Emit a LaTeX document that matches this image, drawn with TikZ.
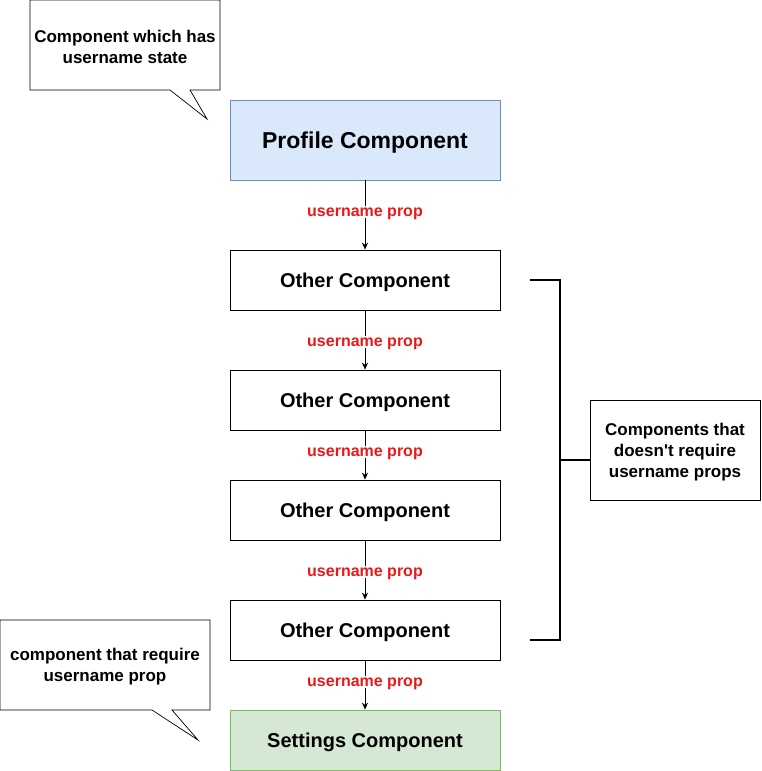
\documentclass[tikz,border=0pt]{standalone}
\usepackage{fontspec}
\setmainfont{Liberation Sans}
\newfontfamily\rawsans{Liberation Sans}
\usetikzlibrary{arrows.meta}
\definecolor{pblue}{HTML}{DAE8FC}
\definecolor{pbluel}{HTML}{6C8EBF}
\definecolor{pgreen}{HTML}{D5E8D4}
\definecolor{pgreenl}{HTML}{82B366}
\definecolor{plabel}{HTML}{E51B1B}
\begin{document}
\begin{tikzpicture}[x=1pt,y=-1pt,
  compbox/.style={draw=black, line width=0.7pt, fill=white, minimum width=270pt, minimum height=60pt, inner sep=0pt, text depth=0pt, font=\bfseries\fontsize{20}{24}\selectfont},
  proplabel/.style={fill=white, text=plabel, font=\bfseries\fontsize{16}{19}\selectfont, inner sep=1.5pt, text depth=0pt},
  flow/.style={draw=black, line width=0.7pt, -{Stealth[length=7pt,width=6pt]}},
  calltext/.style={font=\bfseries\fontsize{17}{21}\selectfont, align=center},
  callshape/.style={draw=black, line width=0.7pt, fill=white, line join=miter}
]
\useasboundingbox (0,0) rectangle (761,771);

% callout 1
\draw[callshape] (30,0) -- (220,0) -- (220,90) -- (190,90) -- (207,119) -- (170,90) -- (30,90) -- cycle;
\node[calltext] (c1) at (125,47) {Component which has\\username state};

% callout 2
\draw[callshape] (0,620) -- (210,620) -- (210,710) -- (172,710) -- (198,740) -- (152,710) -- (0,710) -- cycle;
\node[calltext] (c2) at (105,667) {component that require\\username prop};

% main boxes
\node[compbox, fill=pblue, draw=pbluel, minimum height=80pt, font=\bfseries\fontsize{23}{27}\selectfont] (p) at (365,140) {Profile Component};
\node[compbox] (o1) at (365,280) {Other Component};
\node[compbox] (o2) at (365,400) {Other Component};
\node[compbox] (o3) at (365,510) {Other Component};
\node[compbox] (o4) at (365,630) {Other Component};
\node[compbox, fill=pgreen, draw=pgreenl] (s) at (365,740) {Settings Component};

% connectors
\draw[flow] (p) -- node[proplabel, pos=0.46] (l1) {username prop} (o1);
\draw[flow] (o1) -- node[proplabel, pos=0.53] (l2) {username prop} (o2);
\draw[flow] (o2) -- node[proplabel, pos=0.44] (l3) {username prop} (o3);
\draw[flow] (o3) -- node[proplabel, pos=0.53] (l4) {username prop} (o4);
\draw[flow] (o4) -- node[proplabel, pos=0.44] (l5) {username prop} (s);

% bracket
\node[draw=black, line width=0.7pt, fill=white, minimum width=170pt, minimum height=100pt, inner sep=0pt] (note) at (675,450) {};
\node[calltext, font=\rawsans\bfseries\fontsize{17}{21}\selectfont] (notetext) at (675,452) {Components that\\doesn't require\\username props};
\coordinate (bt) at (530,280);
\coordinate (bb) at (530,640);
\coordinate (bm) at (560,460);
\draw[line width=1.4pt, line join=miter] (bt) -- (560,280) -- (560,640) -- (bb);
\draw[line width=1.4pt] (bm) -- (note.west |- bm);
\end{tikzpicture}
\end{document}
